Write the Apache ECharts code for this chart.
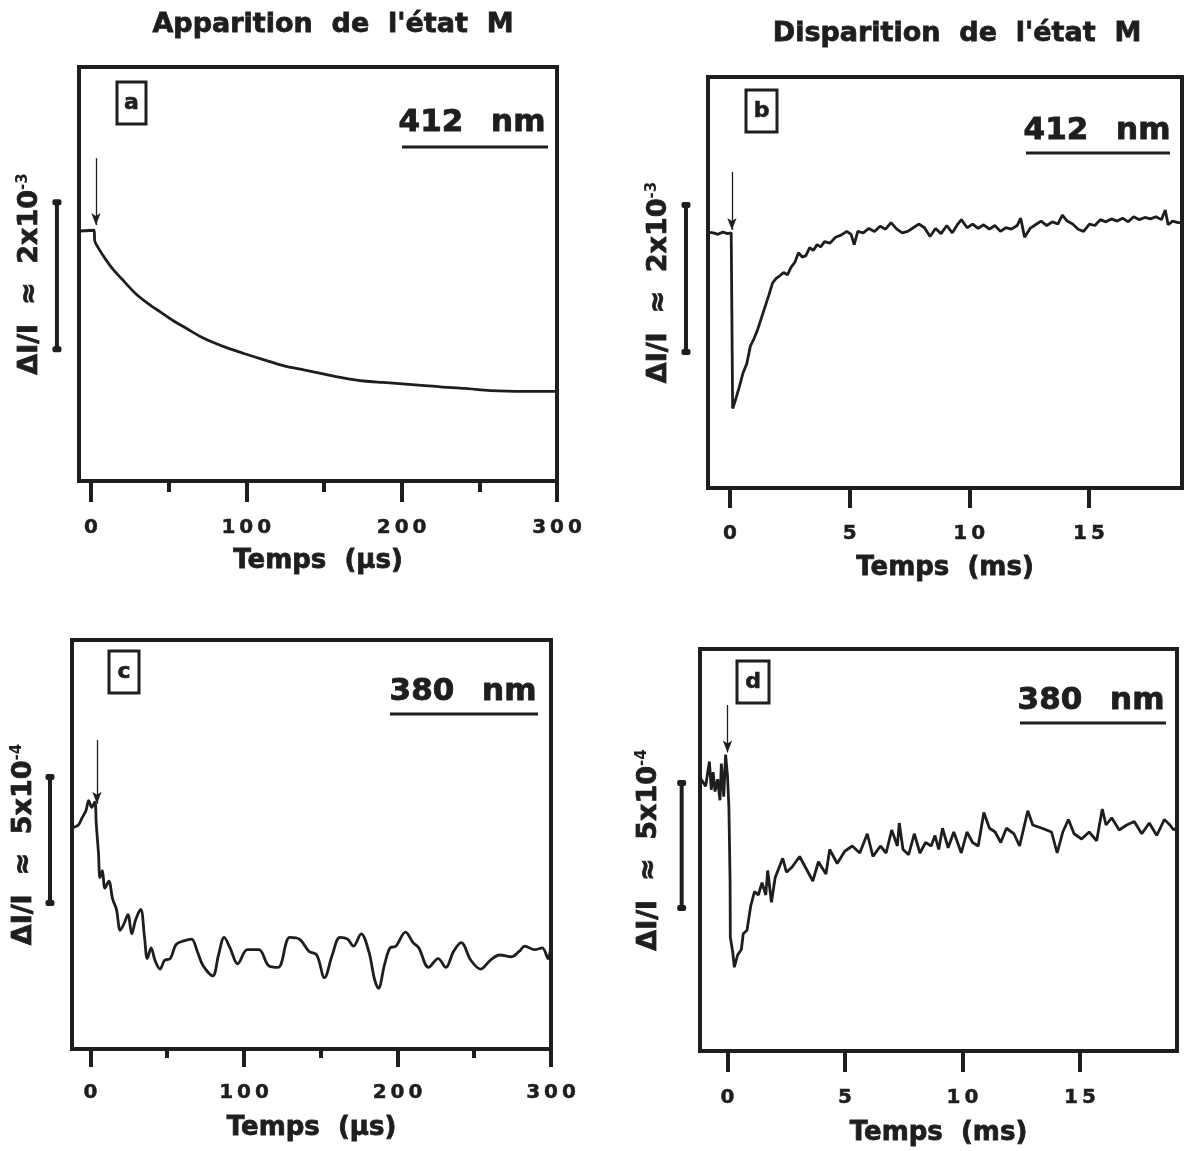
<!DOCTYPE html>
<html>
<head>
<meta charset="utf-8">
<title>Apparition / Disparition de l'état M</title>
<script src="https://cdn.jsdelivr.net/npm/echarts@6/dist/echarts.min.js"></script>
<style>
  html, body { margin: 0; padding: 0; background: #fff; }
  #chart { width: 1190px; height: 1151px; }
</style>
</head>
<body>
<div id="chart"></div>
<script>
// ΔI/I traces, [temps, signal] ; a/b en 1e-3, c/d en 1e-4, 0 = niveau avant le flash
const traceA = [
  [-7.7, 0.0], [2.0, 0.01], [2.5, -0.14], [5.0, -0.24], [9.9, -0.40], [14.5, -0.53], [19.8, -0.65],
  [24.5, -0.76], [29.7, -0.87], [37.0, -0.99], [44.6, -1.10], [53.0, -1.22], [61.9, -1.33],
  [70.0, -1.43], [79.2, -1.52], [89.0, -1.60], [99.0, -1.67], [111.0, -1.75], [123.8, -1.83],
  [137.0, -1.89], [151.0, -1.95], [163.0, -2.00], [175.7, -2.04], [188.0, -2.06], [200.5, -2.08],
  [213.0, -2.10], [225.0, -2.12], [241.0, -2.14], [257.0, -2.17], [280.0, -2.18], [300.0, -2.18]
];

const traceB = [
  [-0.92, 0.01], [-0.7, 0.0], [-0.5, -0.02], [-0.3, 0.01], [-0.1, -0.01], [0.05, 0.0],
  [0.11, -2.39], [0.23, -2.27], [0.39, -2.09], [0.54, -1.91], [0.70, -1.78], [0.85, -1.54],
  [1.00, -1.44], [1.16, -1.31], [1.32, -1.15], [1.47, -1.00], [1.63, -0.84], [1.78, -0.68],
  [1.93, -0.62], [2.09, -0.58], [2.24, -0.54], [2.40, -0.57], [2.55, -0.47], [2.71, -0.40],
  [2.86, -0.27], [3.02, -0.33], [3.17, -0.31], [3.33, -0.20], [3.48, -0.24], [3.64, -0.16],
  [3.79, -0.19], [3.95, -0.12], [4.18, -0.14], [4.41, -0.06], [4.64, -0.03], [4.88, 0.02],
  [5.06, -0.02], [5.19, -0.16], [5.34, 0.02], [5.57, 0.0], [5.80, 0.06], [6.04, 0.02],
  [6.27, 0.09], [6.50, 0.05], [6.73, 0.14], [6.97, 0.05], [7.20, 0.0], [7.43, 0.02],
  [7.66, 0.07], [7.89, 0.12], [8.13, 0.07], [8.36, -0.05], [8.59, 0.06], [8.82, -0.01],
  [9.06, 0.10], [9.29, 0.0], [9.52, 0.12], [9.67, 0.18], [9.91, 0.07], [10.14, 0.12],
  [10.37, 0.06], [10.60, 0.11], [10.84, 0.05], [11.07, 0.10], [11.30, 0.02], [11.53, 0.07],
  [11.76, 0.05], [12.00, 0.10], [12.15, 0.20], [12.31, -0.06], [12.54, 0.06], [12.77, 0.11],
  [13.00, 0.16], [13.24, 0.10], [13.47, 0.15], [13.70, 0.12], [13.89, 0.24], [14.09, 0.16],
  [14.32, 0.12], [14.55, 0.05], [14.78, 0.02], [15.02, 0.12], [15.25, 0.10], [15.48, 0.18],
  [15.71, 0.15], [15.94, 0.19], [16.18, 0.16], [16.41, 0.20], [16.64, 0.15], [16.87, 0.22],
  [17.11, 0.18], [17.34, 0.21], [17.57, 0.19], [17.80, 0.22], [18.03, 0.18], [18.19, 0.31],
  [18.31, 0.11], [18.50, 0.16], [18.73, 0.14], [18.89, 0.14]
];

const traceC = [
  [-12.0, -0.70], [-7.9, -0.59], [-5.5, -0.31], [-3.0, -0.03], [-1.2, 0.38], [0.8, 0.11],
  [2.8, 0.32], [3.8, -0.59], [5.2, -1.71], [6.2, -2.68], [7.7, -2.40], [9.4, -3.10],
  [11.9, -2.82], [14.4, -3.52], [16.9, -3.94], [19.4, -4.77], [21.9, -4.50], [24.4, -4.15],
  [26.9, -4.91], [29.4, -4.35], [32.7, -3.94], [35.2, -5.05], [37.0, -5.89], [39.5, -5.47],
  [42.0, -5.96], [45.3, -6.31], [48.3, -5.96], [52.0, -5.89], [55.8, -5.33], [60.8, -5.19],
  [65.8, -5.12], [69.6, -5.61], [73.3, -6.17], [79.6, -6.58], [83.4, -5.75], [87.1, -5.05],
  [90.9, -5.47], [95.9, -6.10], [102.2, -5.54], [109.7, -5.54], [116.0, -6.17], [122.3, -6.24],
  [129.8, -5.05], [136.1, -5.12], [142.4, -5.61], [147.4, -5.75], [152.4, -6.65], [157.5, -5.75],
  [162.5, -5.05], [167.5, -5.12], [171.3, -5.40], [176.3, -4.91], [181.3, -5.61], [185.1, -6.73],
  [187.6, -7.07], [191.4, -6.17], [195.1, -5.47], [198.9, -5.40], [205.2, -4.84], [210.2, -5.26],
  [213.9, -5.47], [220.2, -6.24], [226.5, -5.89], [231.5, -6.24], [236.5, -5.61], [241.5, -5.26],
  [247.8, -5.96], [254.1, -6.31], [260.4, -5.96], [266.7, -5.75], [274.2, -5.82], [279.2, -5.61],
  [283.0, -5.40], [289.3, -5.54], [294.3, -5.47], [298.1, -5.89], [300.0, -5.30]
];

const traceD = [
  [-1.17, 0.30], [-0.93, -0.05], [-0.77, 0.94], [-0.69, -0.19], [-0.61, 0.51], [-0.53, -0.26],
  [-0.42, 0.23], [-0.32, -0.61], [-0.26, 0.86], [-0.16, -0.47], [-0.08, 1.22], [0.0, 0.37],
  [0.06, -0.89], [0.11, -3.84], [0.12, -6.09], [0.22, -6.66], [0.29, -7.29], [0.43, -6.80],
  [0.59, -6.58], [0.67, -5.95], [0.83, -5.81], [0.99, -4.83], [1.15, -4.26], [1.31, -4.40],
  [1.47, -3.91], [1.63, -4.40], [1.71, -3.42], [1.87, -4.69], [2.03, -3.70], [2.35, -2.93],
  [2.51, -3.49], [2.75, -3.28], [3.07, -2.86], [3.31, -3.28], [3.63, -3.84], [3.87, -3.07],
  [4.19, -3.56], [4.35, -2.58], [4.67, -3.14], [4.99, -2.65], [5.31, -2.44], [5.63, -2.72],
  [5.95, -1.95], [6.19, -2.86], [6.51, -2.44], [6.75, -2.72], [6.99, -1.80], [7.23, -2.44],
  [7.31, -1.52], [7.47, -2.58], [7.71, -2.79], [7.95, -1.95], [8.19, -2.72], [8.43, -2.30],
  [8.67, -2.44], [8.83, -2.02], [8.99, -2.58], [9.15, -1.73], [9.39, -2.51], [9.63, -1.88],
  [9.95, -2.72], [10.19, -1.88], [10.43, -2.30], [10.67, -2.44], [10.91, -1.10], [11.15, -1.73],
  [11.39, -1.88], [11.63, -2.30], [11.87, -1.73], [12.19, -1.95], [12.43, -2.44], [12.59, -1.80],
  [12.78, -1.03], [12.99, -1.60], [13.39, -1.73], [13.79, -1.88], [14.03, -2.72], [14.27, -1.88],
  [14.51, -1.38], [14.75, -1.95], [15.07, -2.16], [15.39, -1.88], [15.71, -2.23], [15.95, -0.96],
  [16.11, -1.60], [16.35, -1.31], [16.67, -1.80], [16.99, -1.60], [17.31, -1.46], [17.63, -1.95],
  [17.95, -1.52], [18.27, -2.02], [18.59, -1.38], [18.83, -1.60], [18.99, -1.80], [19.13, -1.70]
];

// barres d'échelle [temps, bas, haut] et flèches du flash [temps, départ, pointe]
const scaleBars = [[-21.9, -1.61, 0.39], [-1.84, -1.62, 0.38], [-26.4, -3.69, 1.31], [-1.95, -4.92, 0.08]];
const flashArrows = [[3.2, 0.99, 0.08], [0.08, 0.83, 0.04], [4.2, 2.78, 0.25], [0.0, 3.2, 1.3]];

const usTicks = [0, 100, 200, 300];
const usMinorTicks = [50, 150, 250];
const msTicks = [0, 5, 10, 15];

const columnTitles = ["Apparition  de  l'état  M", "Disparition  de  l'état  M"];
const panelLetters = ['a', 'b', 'c', 'd'];
const wavelengths = ['412  \u2009nm', '412  \u2009nm', '380  \u2009nm', '380  \u2009nm'];
const amplitudeLabels = ['{m|ΔI/I  ≈  2x10}{s|-3}', '{m|ΔI/I  ≈  2x10}{s|-3}', '{m|ΔI/I  ≈  5x10}{s|-4}', '{m|ΔI/I  ≈  5x10}{s|-4}'];
const timeUnits = ['Temps  (µs)', 'Temps  (ms)', 'Temps  (µs)', 'Temps  (ms)'];

const INK = '#1e1e1e';
const FONT = '"DejaVu Sans", "Liberation Sans", sans-serif';
const HEAVY = { textBorderColor: INK, textBorderWidth: 0.8 };

// mise en page des quatre cadres
const panels = [
  { box: { left: 79, top: 67, width: 478, height: 414 }, x: [-7.7, 300], y: [-3.40, 2.23],
    trace: traceA, smooth: 0.3, ticks: usTicks, minor: usMinorTicks, tickLen: 21, labelGap: 37, nameGap: 67, yGap: 36,
    title: [333, 25], tag: [117, 82, 29, 42], wl: [472, 123], line: [402, 548, 147] },
  { box: { left: 708, top: 77, width: 474, height: 411 }, x: [-0.92, 18.89], y: [-3.47, 2.12],
    trace: traceB, smooth: false, ticks: msTicks, minor: null, tickLen: 20, labelGap: 36, nameGap: 67, yGap: 36,
    title: [957, 34], tag: [746, 90, 31, 42], wl: [1097, 131], line: [1026, 1170, 153] },
  { box: { left: 72, top: 640, width: 479, height: 409 }, x: [-12.05, 300], y: [-9.48, 6.75],
    trace: traceC, smooth: 0.35, ticks: usTicks, minor: usMinorTicks, tickLen: 18, labelGap: 34, nameGap: 66, yGap: 35,
    title: null, tag: [109, 651, 30, 42], wl: [463, 692], line: [390, 538, 714] },
  { box: { left: 700, top: 649, width: 477, height: 402 }, x: [-1.17, 19.13], y: [-10.64, 5.44],
    trace: traceD, smooth: false, ticks: msTicks, minor: null, tickLen: 21, labelGap: 37, nameGap: 69, yGap: 38,
    title: null, tag: [737, 661, 32, 42], wl: [1091, 701], line: [1020, 1166, 723] }
];

const spaced = (v) => String(v).split('').join('\u2009');

// barre verticale d'échelle, à gauche du cadre (hors zone de tracé)
const renderScaleBar = (params, api) => {
  const top = api.coord([api.value(0), api.value(2)]);
  const bottom = api.coord([api.value(0), api.value(1)]);
  const cap = (pt) => ({
    type: 'rect',
    shape: { x: pt[0] - 4.5, y: pt[1] - 3, width: 9, height: 6, r: 2 },
    style: { fill: INK }
  });
  return {
    type: 'group',
    children: [
      { type: 'line', shape: { x1: top[0], y1: top[1], x2: bottom[0], y2: bottom[1] }, style: { stroke: INK, lineWidth: 4 } },
      cap(top),
      cap(bottom)
    ]
  };
};

const grid = [];
const xAxis = [];
const yAxis = [];
const series = [];
const graphic = [];

panels.forEach((p, i) => {
  grid.push(Object.assign({ show: true, borderColor: INK, borderWidth: 4, backgroundColor: 'transparent' }, p.box));

  xAxis.push({
    type: 'value', gridIndex: i, position: 'bottom', min: p.x[0], max: p.x[1],
    axisLine: { show: false, onZero: false },
    splitLine: { show: false },
    axisTick: { show: true, customValues: p.ticks, length: p.tickLen, lineStyle: { color: INK, width: 4 } },
    axisLabel: Object.assign({
      customValues: p.ticks, formatter: spaced, margin: p.labelGap,
      fontFamily: FONT, fontWeight: 'bold', fontSize: 20, color: INK
    }, { textBorderColor: INK, textBorderWidth: 0.5 }),
    name: timeUnits[i], nameLocation: 'middle', nameGap: p.nameGap,
    nameTextStyle: Object.assign({ fontFamily: FONT, fontWeight: 'bold', fontSize: 26, color: INK }, HEAVY)
  });

  yAxis.push({
    type: 'value', gridIndex: i, min: p.y[0], max: p.y[1],
    axisLine: { show: false, onZero: false },
    axisTick: { show: false }, axisLabel: { show: false }, splitLine: { show: false },
    name: amplitudeLabels[i], nameLocation: 'middle', nameRotate: 90, nameGap: p.yGap,
    nameTextStyle: {
      color: INK,
      rich: {
        m: Object.assign({ fontFamily: FONT, fontWeight: 'bold', fontSize: 27, color: INK }, HEAVY),
        s: { fontFamily: FONT, fontWeight: 'bold', fontSize: 15, color: INK, verticalAlign: 'top' }
      }
    }
  });

  const arrow = flashArrows[i];

  series.push({
    type: 'line', xAxisIndex: i, yAxisIndex: i, data: p.trace,
    showSymbol: false, smooth: p.smooth, silent: true,
    lineStyle: { color: INK, width: 2.8 },
    markLine: {
      silent: true, symbol: ['none', 'arrow'], symbolSize: [7, 12],
      label: { show: false },
      lineStyle: { type: 'solid', color: INK, width: 1.3 },
      data: [[{ coord: [arrow[0], arrow[1]] }, { coord: [arrow[0], arrow[2]] }]]
    }
  });

  series.push({
    type: 'custom', xAxisIndex: i, yAxisIndex: i, clip: false, silent: true,
    data: [scaleBars[i]],
    encode: { x: 0, y: [1, 2] },
    renderItem: renderScaleBar
  });

  // étiquette de la longueur d'onde, soulignée
  graphic.push({
    type: 'text', x: p.wl[0], y: p.wl[1],
    style: { text: wavelengths[i], font: 'bold 31px ' + FONT, fill: INK, stroke: INK, lineWidth: 0.9,
      align: 'center', verticalAlign: 'middle' }
  });
  graphic.push({
    type: 'line', shape: { x1: p.line[0], y1: p.line[2], x2: p.line[1], y2: p.line[2] },
    style: { stroke: INK, lineWidth: 3 }
  });

  // lettre du panneau dans son cadre
  const t = p.tag;
  graphic.push({
    type: 'rect', shape: { x: t[0], y: t[1], width: t[2], height: t[3] },
    style: { fill: 'none', stroke: INK, lineWidth: 3 }
  });
  graphic.push({
    type: 'text', x: t[0] + t[2] / 2, y: t[1] + t[3] / 2,
    style: { text: panelLetters[i], font: 'bold 22px ' + FONT, fill: INK, stroke: INK, lineWidth: 0.6,
      align: 'center', verticalAlign: 'middle' }
  });

  if (p.title) {
    graphic.push({
      type: 'text', x: p.title[0], y: p.title[1],
      style: { text: columnTitles[i], font: 'bold 27px ' + FONT, fill: INK, stroke: INK, lineWidth: 0.8,
        align: 'center', verticalAlign: 'middle' }
    });
  }
});

// graduations secondaires (50, 150, 250 µs), plus courtes
panels.forEach((p, i) => {
  if (!p.minor) return;
  xAxis.push({
    type: 'value', gridIndex: i, position: 'bottom', min: p.x[0], max: p.x[1],
    axisLine: { show: false, onZero: false },
    splitLine: { show: false }, axisLabel: { show: false },
    axisTick: { show: true, customValues: p.minor, length: Math.round(p.tickLen / 2), lineStyle: { color: INK, width: 4 } }
  });
});

const chart = echarts.init(document.getElementById('chart'));
chart.setOption({
  backgroundColor: '#ffffff',
  animation: false,
  grid,
  xAxis,
  yAxis,
  series,
  graphic
});
</script>
</body>
</html>
